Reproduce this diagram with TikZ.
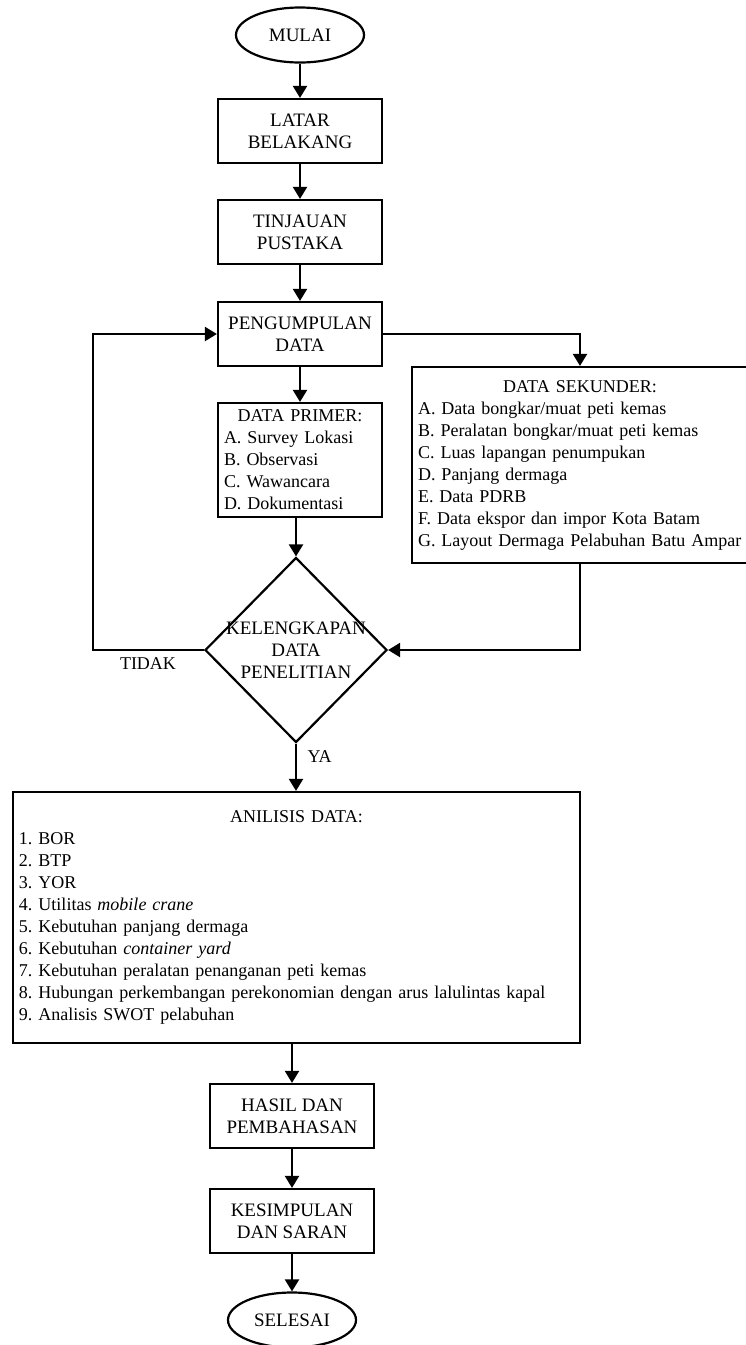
\documentclass[tikz,border=0pt]{standalone}
\usepackage{fontspec}
\setmainfont{Liberation Serif}
\usetikzlibrary{shapes.geometric}
\usetikzlibrary{arrows.meta}
\usetikzlibrary{calc}
\frenchspacing
\tikzset{
	every node/.style={font=\fontsize{18}{22}\selectfont},
	bigtext/.style={font=\fontsize{19}{22}\selectfont},
	procbox/.style={draw, bigtext, line width=2.2pt, minimum width=164pt, minimum height=64pt, align=center, inner sep=0pt},
	listbox/.style={draw, line width=2.2pt, align=left, inner xsep=6pt, inner ysep=0pt},
	termin/.style={draw, bigtext, ellipse, line width=2.2pt, minimum width=128pt, minimum height=55pt, inner sep=0pt},
	decide/.style={draw, diamond, line width=2.2pt, minimum width=182pt, minimum height=185pt, inner sep=0pt},
	flow/.style={line width=2.2pt, -{Triangle[width=14pt,length=12pt]}}
}
\newcommand{\boxhead}[1]{\null\hfill #1\hfill\null}

\begin{document}
\begin{tikzpicture}[x=1pt, y=-1pt]
\path[fill=white, use as bounding box] (0,0) rectangle (745,1345);

% top column
\node[termin] (mulai) at (300,35) {MULAI};
\node[procbox] (latar) at (300,131) {LATAR\\BELAKANG};
\node[procbox] (tinjauan) at (300,232) {TINJAUAN\\PUSTAKA};
\node[procbox] (kumpul) at (300,334) {PENGUMPULAN\\DATA};

% data primer
\node[listbox, text width=152pt, minimum height=114pt] (primer) at (300,460)
{\boxhead{DATA PRIMER:}\\A. Survey Lokasi\\B. Observasi\\C. Wawancara\\D. Dokumentasi};

% data sekunder
\node[listbox, text width=324pt, minimum height=196pt] (sekunder) at (580,465)
{\boxhead{DATA SEKUNDER:}\\A. Data bongkar/muat peti kemas\\B. Peralatan bongkar/muat peti kemas\\C. Luas lapangan penumpukan\\D. Panjang dermaga\\E. Data PDRB\\F. Data ekspor dan impor Kota Batam\\G. Layout Dermaga Pelabuhan Batu Ampar};

% decision
\node[decide, label={[bigtext, align=center]center:KELENGKAPAN\\DATA\\PENELITIAN}] (cek) at (296,650) {};
\coordinate (balik) at (93,650);
\node (tidak) at (148,664) {TIDAK};
\node[anchor=west] (ya) at (304,757) {YA};

% analysis
\node[listbox, text width=555pt, minimum height=251pt] (analisis) at (296.5,917.5)
{\boxhead{ANILISIS DATA:}\\1. BOR\\2. BTP\\3. YOR\\4. Utilitas \textit{mobile crane}\\5. Kebutuhan panjang dermaga\\6. Kebutuhan \textit{container yard}\\7. Kebutuhan peralatan penanganan peti kemas\\8. Hubungan perkembangan perekonomian dengan arus lalulintas kapal\\9. Analisis SWOT pelabuhan};

% bottom column
\node[procbox] (hasil) at (292,1116) {HASIL DAN\\PEMBAHASAN};
\node[procbox] (simpul) at (292,1221) {KESIMPULAN\\DAN SARAN};
\node[termin] (selesai) at (292,1320) {SELESAI};

% connectors
\draw[flow] (mulai) -- (latar);
\draw[flow] (latar) -- (tinjauan);
\draw[flow] (tinjauan) -- (kumpul);
\draw[flow] (kumpul) -- (primer);
\draw[flow] (kumpul.east) -| (sekunder.north);
\draw[flow] (primer.south -| cek.north) -- (cek.north);
\draw[flow] (sekunder.south) |- (cek.east);
\draw[flow] (cek.west) -- (balik) |- (kumpul.west);
\draw[flow] (cek.south) -- (cek.south |- analisis.north);
\draw[flow] (analisis.south -| hasil) -- (hasil);
\draw[flow] (hasil) -- (simpul);
\draw[flow] (simpul) -- (selesai);
\end{tikzpicture}
\end{document}
